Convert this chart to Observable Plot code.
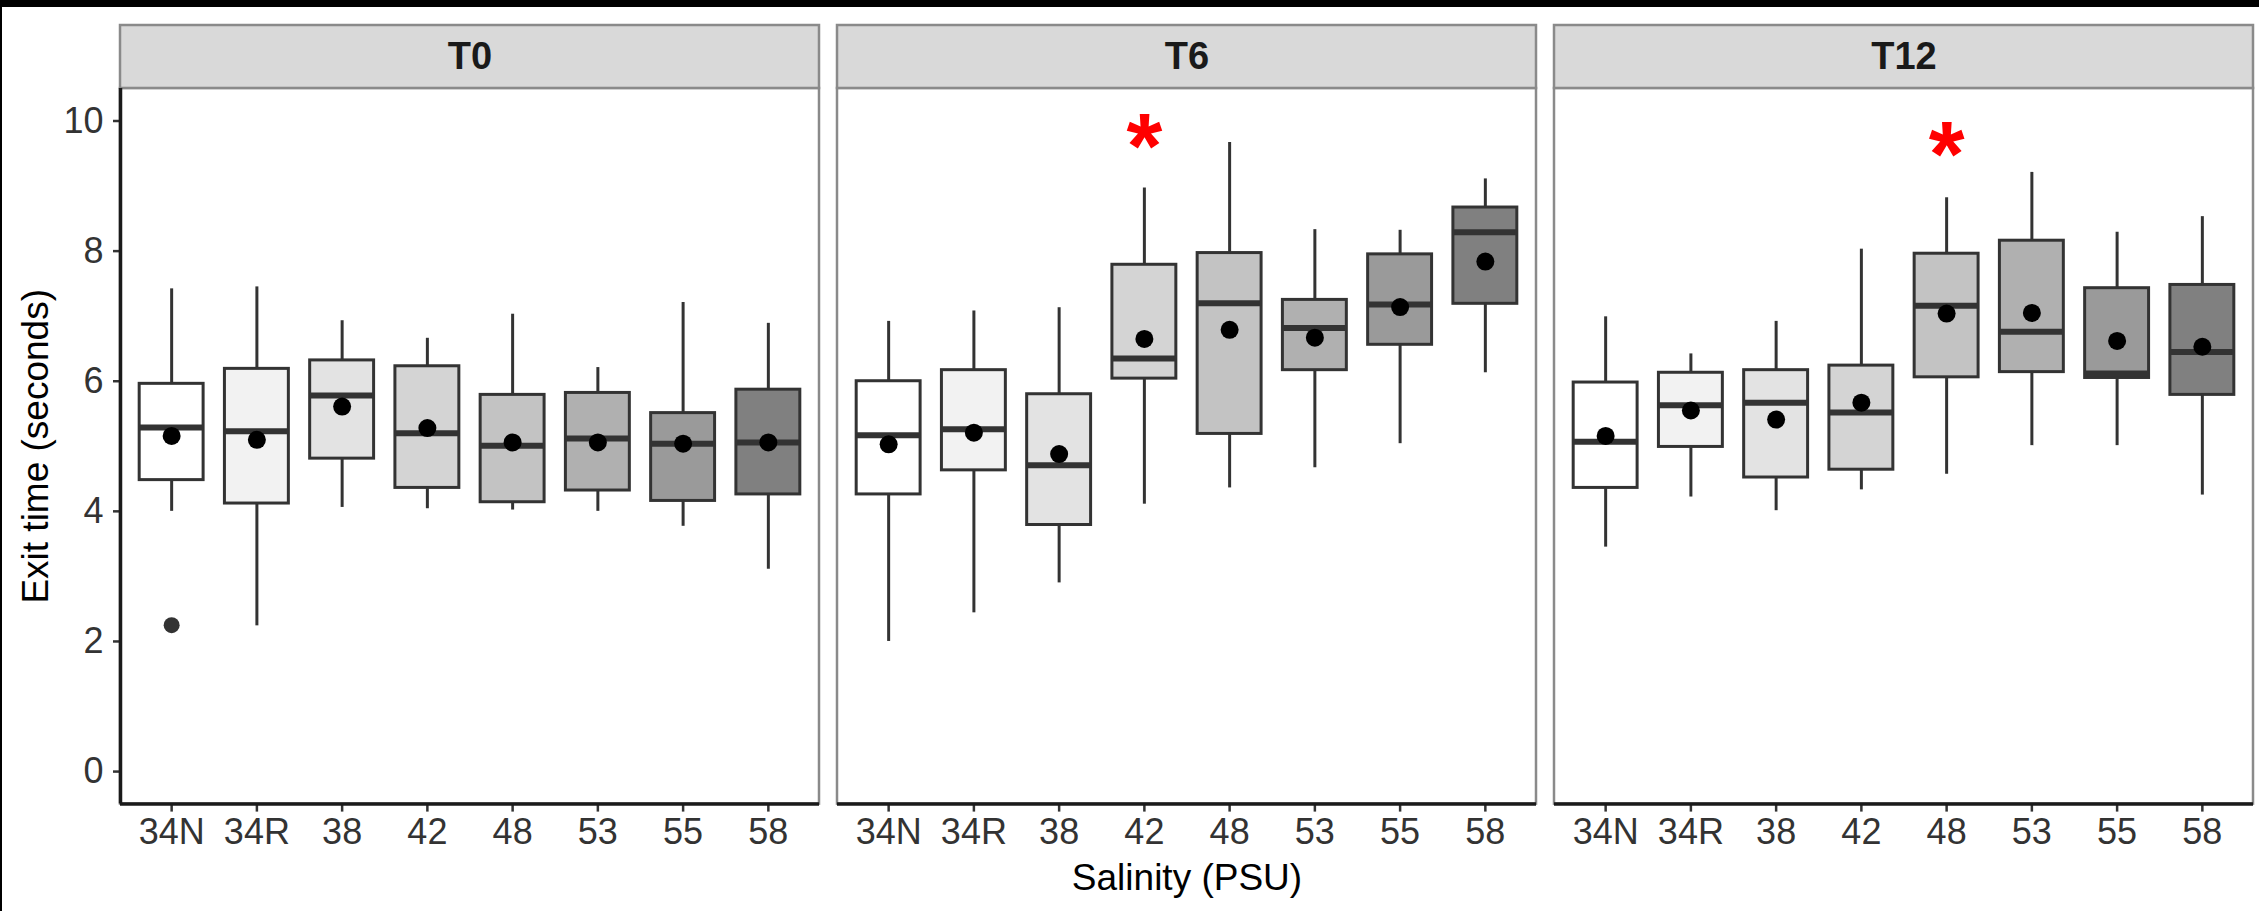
<!DOCTYPE html>
<html>
<head>
<meta charset="utf-8">
<script src="https://cdn.jsdelivr.net/npm/d3@7"></script>
<script src="https://cdn.jsdelivr.net/npm/@observablehq/plot@0.6"></script>
<style>
  html, body { margin: 0; padding: 0; background: #000; }
  #chart { position: absolute; left: 2px; top: 7px; }
  #chart svg { display: block; background: #fff; }
</style>
</head>
<body>
<div id="chart"></div>
<script>
// ---- categories ----
const salinity = ["34N", "34R", "38", "42", "48", "53", "55", "58"];
const times = ["T0", "T6", "T12"];
const yTicks = [0, 2, 4, 6, 8, 10];

// ---- T0 box statistics (seconds) ----
const t0Low    = [4.00, 2.24, 4.06, 4.04, 4.02, 4.00, 3.77, 3.11];
const t0Q1     = [4.48, 4.12, 4.81, 4.36, 4.14, 4.32, 4.16, 4.26];
const t0Median = [5.29, 5.23, 5.78, 5.20, 5.01, 5.12, 5.04, 5.06];
const t0Q3     = [5.96, 6.19, 6.32, 6.23, 5.79, 5.82, 5.51, 5.87];
const t0High   = [7.42, 7.45, 6.93, 6.66, 7.03, 6.21, 7.21, 6.89];
const t0Mean   = [5.16, 5.10, 5.61, 5.28, 5.06, 5.06, 5.04, 5.06];

// ---- T6 ----
const t6Low    = [2.00, 2.44, 2.90, 4.11, 4.36, 4.67, 5.04, 6.13];
const t6Q1     = [4.26, 4.63, 3.79, 6.04, 5.19, 6.17, 6.56, 7.19];
const t6Median = [5.17, 5.26, 4.71, 6.35, 7.20, 6.82, 7.18, 8.29];
const t6Q3     = [6.00, 6.17, 5.80, 7.79, 7.97, 7.25, 7.95, 8.67];
const t6High   = [6.92, 7.08, 7.13, 8.97, 9.67, 8.33, 8.32, 9.11];
const t6Mean   = [5.03, 5.21, 4.88, 6.65, 6.79, 6.67, 7.14, 7.84];

// ---- T12 ----
const t12Low    = [3.45, 4.22, 4.01, 4.33, 4.57, 5.01, 5.01, 4.25];
const t12Q1     = [4.36, 4.99, 4.52, 4.64, 6.06, 6.14, 6.05, 5.79];
const t12Median = [5.07, 5.63, 5.67, 5.52, 7.16, 6.76, 6.12, 6.45];
const t12Q3     = [5.98, 6.13, 6.17, 6.24, 7.96, 8.16, 7.43, 7.48];
const t12High   = [6.99, 6.42, 6.92, 8.03, 8.82, 9.21, 8.29, 8.53];
const t12Mean   = [5.16, 5.55, 5.41, 5.67, 7.04, 7.05, 6.62, 6.53];

// ---- outliers ----
const outlierTime = ["T0"];
const outlierSalinity = ["34N"];
const outlierValue = [2.25];

// ---- significance markers ----
const starTime = ["T6", "T12"];
const starSalinity = ["42", "48"];
const starY = [9.57, 9.45];

// ---- palette (scale_fill_grey 1 -> 0.5) ----
const greys = ["#ffffff", "#f2f2f2", "#e3e3e3", "#d4d4d4", "#c3c3c3", "#b0b0b0", "#9a9a9a", "#808080"];

// ---- build tables ----
const stats = {
  T0:  [t0Low, t0Q1, t0Median, t0Q3, t0High, t0Mean],
  T6:  [t6Low, t6Q1, t6Median, t6Q3, t6High, t6Mean],
  T12: [t12Low, t12Q1, t12Median, t12Q3, t12High, t12Mean]
};
const rows = [];
for (const t of times) {
  const [lo, q1, md, q3, hi, mn] = stats[t];
  salinity.forEach((s, i) => rows.push({
    time: t, salinity: s, idx: i + 1,
    low: lo[i], q1: q1[i], median: md[i], q3: q3[i], high: hi[i], mean: mn[i]
  }));
}
const outliers = outlierTime.map((t, i) => ({time: t, idx: salinity.indexOf(outlierSalinity[i]) + 1, value: outlierValue[i]}));
const stars = starTime.map((t, i) => ({time: t, idx: salinity.indexOf(starSalinity[i]) + 1, y: starY[i]}));
const panels = times.map(t => ({time: t}));

// ---- layout constants (ggplot-style expansion) ----
const xLo = 0.4, xHi = 8.6;        // discrete axis expansion 0.6
const yLo = -0.5, yTop = 10.5;     // continuous expansion
const stripTop = 11.468;           // strip band above panel
const half = 0.375;                // box half-width

const font = "'Liberation Sans', Arial, Helvetica, sans-serif";

const chart = Plot.plot({
  width: 2257,
  height: 904,
  marginLeft: 118,
  marginRight: 6,
  marginTop: 18,
  marginBottom: 107.4,
  style: {fontFamily: font, fontSize: "36px", background: "#fff", color: "#333"},
  fx: {domain: times, paddingInner: 18 / 717, paddingOuter: 0, axis: null, label: null},
  x: {domain: [xLo, xHi], label: null},
  y: {domain: [yLo, stripTop], label: null},
  color: {type: "ordinal", domain: salinity, range: greys},
  marks: [
    // panel background + border
    Plot.rect(panels, {fx: "time", y1: () => yLo, y2: () => yTop, fill: "#fff", stroke: "#8a8a8a", strokeWidth: 2.5}),
    // strip
    Plot.rect(panels, {fx: "time", y1: () => yTop, y2: () => stripTop, fill: "#d9d9d9", stroke: "#8a8a8a", strokeWidth: 2.5}),
    Plot.text(panels, {fx: "time", text: "time", y: () => (yTop + stripTop) / 2, fontWeight: "bold", fontSize: 38, fill: "#1a1a1a"}),
    // whiskers
    Plot.ruleX(rows, {fx: "time", x: "idx", y1: "low", y2: "q1", stroke: "#333", strokeWidth: 3}),
    Plot.ruleX(rows, {fx: "time", x: "idx", y1: "q3", y2: "high", stroke: "#333", strokeWidth: 3}),
    // boxes
    Plot.rect(rows, {fx: "time", x1: d => d.idx - half, x2: d => d.idx + half, y1: "q1", y2: "q3", fill: "salinity", stroke: "#333", strokeWidth: 3}),
    // medians
    Plot.ruleY(rows, {fx: "time", x1: d => d.idx - half, x2: d => d.idx + half, y: "median", stroke: "#333", strokeWidth: 6}),
    // outliers
    Plot.dot(outliers, {fx: "time", x: "idx", y: "value", r: 8, fill: "#333", stroke: "none"}),
    // means
    Plot.dot(rows, {fx: "time", x: "idx", y: "mean", r: 9, fill: "#000", stroke: "none"}),
    // significance
    Plot.text(stars, {fx: "time", x: "idx", y: "y", text: () => "*", fill: "#ff0000", fontSize: 92, fontWeight: "bold"}),
    // axes
    Plot.axisX({ticks: d3.range(1, 9), tickFormat: i => salinity[i - 1], tickSize: 8, tickPadding: 6.5, stroke: "#333", strokeWidth: 2.5, fill: "#333", fontSize: 36, label: null}),
    Plot.axisY({ticks: yTicks, tickSize: 7, tickPadding: 10, stroke: "#333", strokeWidth: 2.5, fill: "#333", fontSize: 36, label: null}),
    Plot.ruleY([yLo], {stroke: "#1a1a1a", strokeWidth: 3.5}),
    Plot.ruleX(panels.slice(0, 1), {fx: "time", x: () => xLo, y1: () => yLo, y2: () => yTop, stroke: "#1a1a1a", strokeWidth: 3.5}),
    // axis titles
    Plot.text(panels.slice(0, 1), {fx: "time", text: () => "Exit time (seconds)", x: () => xLo, y: () => (yLo + yTop) / 2, rotate: -90, dx: -84, fontSize: 37, fill: "#000"}),
    Plot.text(panels.slice(1, 2), {fx: "time", text: () => "Salinity (PSU)", x: () => (xLo + xHi) / 2, y: () => yLo, dy: 74, fontSize: 37, fill: "#000"})
  ]
});
document.getElementById("chart").appendChild(chart);
</script>
</body>
</html>
